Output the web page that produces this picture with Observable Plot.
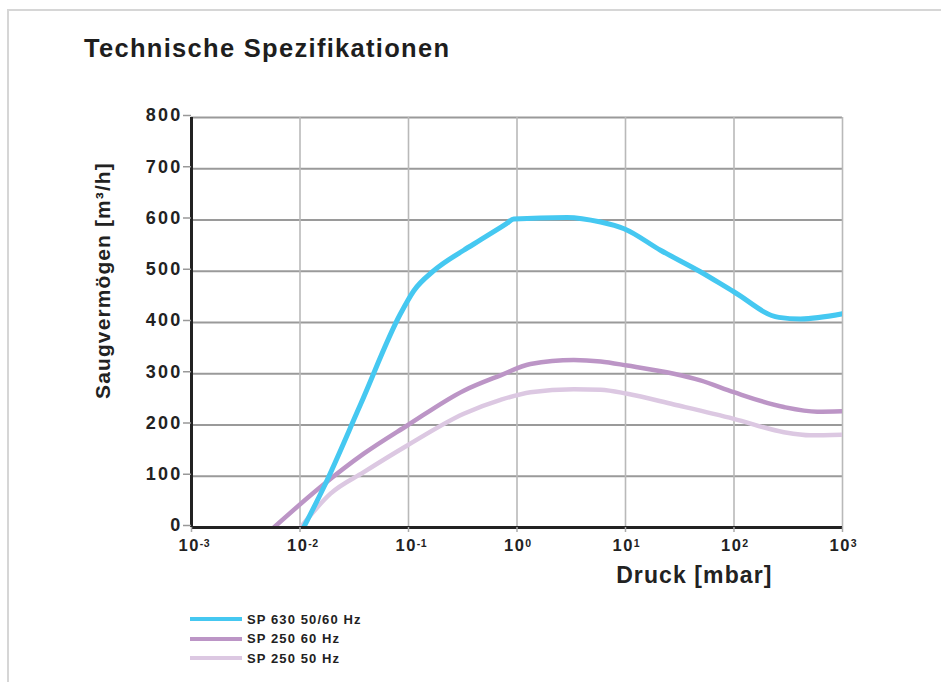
<!DOCTYPE html>
<html>
<head>
<meta charset="utf-8">
<script src="https://cdn.jsdelivr.net/npm/d3@7"></script>
<script src="https://cdn.jsdelivr.net/npm/@observablehq/plot@0.6"></script>
<style>
  html, body { margin: 0; padding: 0; background: #fff; overflow: hidden; width: 941px; height: 682px; }
  body { font-family: "Liberation Sans", Arial, Helvetica, sans-serif; color: #222; }
  #frame { position: absolute; left: 7px; top: 9px; width: 960px; height: 700px;
           border-top: 2px solid #d6d6d6; border-left: 2px solid #d6d6d6; }
  #title { position: absolute; left: 84px; top: 35px; font-weight: bold; font-size: 25.5px;
           line-height: 26px; letter-spacing: 1.3px; color: #1e1e1e; white-space: nowrap; }
  #chart { position: absolute; left: 0; top: 90px; }
  #legend { position: absolute; left: 190px; top: 610px; }
  .row { position: absolute; left: 0; height: 16px; display: flex; align-items: center; white-space: nowrap; }
  .swatch { width: 52px; display: inline-block; }
  .lbl { margin-left: 5px; font-weight: bold; font-size: 13px; letter-spacing: 1.1px; color: #222; }
  #chart svg g[aria-label="y-axis tick label"] text { letter-spacing: 2.2px; }
  #chart svg g[aria-label="x-axis tick label"] text { letter-spacing: 1.5px; }
</style>
</head>
<body>
<div id="frame"></div>
<div id="title">Technische Spezifikationen</div>
<div id="chart"></div>
<div id="legend"></div>
<script>
// ---- data ----
const seriesNames = ["SP 630 50/60 Hz", "SP 250 60 Hz", "SP 250 50 Hz"];
const seriesColors = ["#45c8f1", "#bc95c6", "#dcc8e2"];

const pressureSP630 = [0.0108, 0.0166, 0.0361, 0.0843, 0.112, 0.171, 0.323, 0.46, 0.8, 0.934, 2.9, 5.9, 9.7, 21, 49, 99.6, 259, 410, 1000];
const flowSP630     = [0, 79, 240, 417, 462, 501, 541, 561, 593, 602, 605, 596, 583, 541, 499, 460, 410, 407, 417];

const pressureSP250_60 = [0.00574, 0.01545, 0.0387, 0.0973, 0.323, 0.705, 1.33, 3.34, 5.9, 10.4, 27.9, 49, 99.6, 288, 585, 1000];
const flowSP250_60     = [0, 79, 144, 199, 267, 297, 319, 327, 324, 316, 300, 287, 264, 235, 226, 227];

const pressureSP250_50 = [0.0101, 0.0191, 0.0387, 0.0973, 0.323, 0.705, 1.33, 3.34, 5.9, 10.4, 27.9, 99.6, 288, 505, 1000];
const flowSP250_50     = [0, 66, 108, 160, 222, 249, 264, 270, 269, 261, 240, 212, 186, 180, 181];

const xTicks = [1e-3, 1e-2, 1e-1, 1e0, 1e1, 1e2, 1e3];
const xExponents = ["-3", "-2", "-1", "0", "1", "2", "3"];
const yTicks = [0, 100, 200, 300, 400, 500, 600, 700, 800];

const xTitle = "Druck [mbar]";
const yTitle = "Saugvermögen [m³/h]";

// ---- build tables ----
const toRows = (xs, ys) => xs.map((x, i) => ({x, y: ys[i]}));
const sp630 = toRows(pressureSP630, flowSP630);
const sp250_60 = toRows(pressureSP250_60, flowSP250_60);
const sp250_50 = toRows(pressureSP250_50, flowSP250_50);

const font = "Liberation Sans, Arial, Helvetica, sans-serif";

const chart = Plot.plot({
  width: 941,
  height: 510,
  marginLeft: 191,
  marginRight: 99,
  marginTop: 27,
  marginBottom: 73,
  style: {fontFamily: font, background: "transparent", overflow: "visible", color: "#222"},
  x: {type: "log", domain: [1e-3, 1e3]},
  y: {domain: [0, 800]},
  marks: [
    Plot.gridY(yTicks, {stroke: "#9a9a9a", strokeOpacity: 1, strokeWidth: 2}),
    Plot.gridX(xTicks, {stroke: "#b9b9b9", strokeOpacity: 1, strokeWidth: 1.6}),
    Plot.line(sp250_50, {x: "x", y: "y", stroke: seriesColors[2], strokeWidth: 4.5, curve: "monotone-x", clip: true, strokeLinecap: "butt"}),
    Plot.line(sp250_60, {x: "x", y: "y", stroke: seriesColors[1], strokeWidth: 4.5, curve: "monotone-x", clip: true, strokeLinecap: "butt"}),
    Plot.line(sp630, {x: "x", y: "y", stroke: seriesColors[0], strokeWidth: 5, curve: "monotone-x", clip: true, strokeLinecap: "butt"}),
    Plot.ruleY([0], {stroke: "#222", strokeWidth: 3}),
    Plot.ruleX([1e-3], {stroke: "#222", strokeWidth: 3}),
    Plot.axisY(yTicks, {
      tickSize: 8, tickPadding: 1, stroke: "#999", strokeWidth: 1.5, fill: "#222",
      fontSize: 18, fontWeight: "bold", label: null, dy: -2
    }),
    Plot.axisX(xTicks, {
      tickSize: 5, tickPadding: 7, stroke: "#aaa", strokeWidth: 1.5, fill: "#222",
      fontSize: 16.5, fontWeight: "bold", label: null, tickFormat: (d) => "10"
    }),
    Plot.text([xTitle], {
      frameAnchor: "bottom-right", textAnchor: "end", dx: -70, dy: 55,
      fontSize: 23, fontWeight: "bold", fill: "#222"
    }),
    Plot.text([yTitle], {
      frameAnchor: "left", textAnchor: "middle", rotate: -90, dx: -88, dy: -42,
      fontSize: 21, fontWeight: "bold", fill: "#222"
    })
  ]
});

document.getElementById("chart").appendChild(chart);

// superscript exponents on the x tick labels
d3.select(chart).selectAll('g[aria-label="x-axis tick label"] text').each(function (d, i) {
  const t = d3.select(this);
  t.text(null);
  t.attr("text-anchor", "start").attr("x", -13);
  t.append("tspan").text("10");
  t.append("tspan").attr("dy", -4.5).attr("font-size", 10.5).attr("letter-spacing", "0.5px").text(xExponents[i]);
});
// axis title letter spacing
d3.select(chart).selectAll('g[aria-label="text"] text').attr("letter-spacing", "1.1px");

// legend
const legend = d3.select("#legend");
seriesNames.forEach((name, i) => {
  const row = legend.append("div").attr("class", "row").style("top", `${i * 19.6 + 1}px`);
  row.append("span").attr("class", "swatch")
    .style("height", i === 0 ? "4.5px" : "4px")
    .style("background", seriesColors[i]);
  row.append("span").attr("class", "lbl").text(name);
});
</script>
</body>
</html>
